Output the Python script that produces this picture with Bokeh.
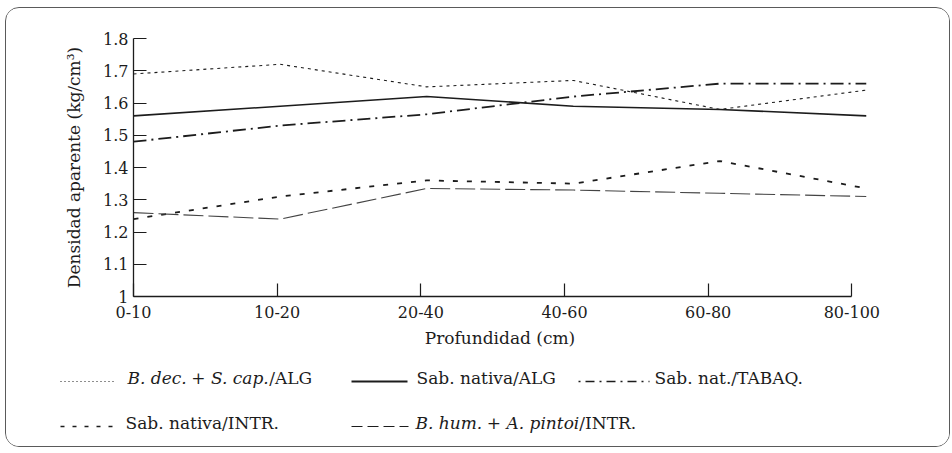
from bokeh.plotting import figure
from bokeh.models import Range1d, FixedTicker
from bokeh.layouts import column
from bokeh.core.properties import value
from bokeh.embed import file_html
from bokeh.resources import INLINE

# ---------------- data ----------------
DEPTHS = ["0-10", "10-20", "20-40", "40-60", "60-80", "80-100"]
BDEC_ALG = [1.69, 1.72, 1.65, 1.67, 1.58, 1.64]        # B. dec. + S. cap./ALG
SABNAT_ALG = [1.56, 1.59, 1.62, 1.59, 1.58, 1.56]      # Sab. nativa/ALG
SABNAT_TABAQ = [1.48, 1.53, 1.565, 1.62, 1.66, 1.66]   # Sab. nat./TABAQ.
SABNAT_INTR = [1.24, 1.31, 1.36, 1.35, 1.42, 1.335]    # Sab. nativa/INTR.
BHUM_INTR = [1.26, 1.24, 1.335, 1.33, 1.32, 1.31]      # B. hum. + A. pintoi/INTR.

Y_TICKS = [1.0, 1.1, 1.2, 1.3, 1.4, 1.5, 1.6, 1.7, 1.8]
Y_TICK_LABELS = ["1", "1.1", "1.2", "1.3", "1.4", "1.5", "1.6", "1.7", "1.8"]

X_LABEL = "Profundidad (cm)"
Y_LABEL = "Densidad aparente (kg/cm³)"

# ---------------- style ----------------
FONT = "DejaVu Serif"
INK = "#1c1c1c"
TICK_STEP = 0.98   # in the source the depth ticks are spaced slightly tighter than the points

x_pos = list(range(len(DEPTHS)))
x_ticks = [round(i * TICK_STEP, 3) for i in x_pos]

W_ALL = 943
H_MAIN = 350
H_LEG = 88

p = figure(width=W_ALL, height=H_MAIN,
           x_range=Range1d(0, len(DEPTHS) - 1), y_range=Range1d(1.0, 1.8),
           output_backend="svg", toolbar_location=None,
           min_border_left=127, min_border_right=83,
           min_border_top=30, min_border_bottom=62)
p.outline_line_color = None
p.background_fill_color = "white"
p.border_fill_color = "white"
p.xgrid.visible = False
p.ygrid.visible = False

for ax in (p.xaxis[0], p.yaxis[0]):
    ax.axis_line_color = INK
    ax.axis_line_width = 1.3
    ax.major_tick_line_color = INK
    ax.major_tick_line_width = 1.2
    ax.major_tick_in = 13
    ax.major_tick_out = 0
    ax.minor_tick_line_color = None
    ax.major_label_text_font = FONT
    ax.major_label_text_font_size = "16px"
    ax.major_label_text_color = INK
    ax.axis_label_text_font = FONT
    ax.axis_label_text_font_size = "17px"
    ax.axis_label_text_font_style = "normal"
    ax.axis_label_text_color = INK

p.xaxis.ticker = FixedTicker(ticks=x_ticks)
p.xaxis.major_label_overrides = dict(zip(x_ticks, DEPTHS))
p.xaxis.bounds = (0, x_ticks[-1])
p.xaxis.major_label_standoff = 9
p.xaxis.axis_label = X_LABEL
p.xaxis.axis_label_standoff = 7

p.yaxis.ticker = FixedTicker(ticks=Y_TICKS)
p.yaxis.major_label_overrides = dict(zip(Y_TICKS, Y_TICK_LABELS))
p.yaxis.major_label_standoff = 5
p.yaxis.axis_label = Y_LABEL
p.yaxis.axis_label_standoff = 16

# ---------------- series ----------------
p.line(x_pos, BDEC_ALG, line_color=INK, line_width=1.1, line_dash="3 4")
p.line(x_pos, SABNAT_ALG, line_color=INK, line_width=1.6)
p.line(x_pos, SABNAT_TABAQ, line_color=INK, line_width=1.8, line_dash="13 5 2 5")
p.line(x_pos, SABNAT_INTR, line_color=INK, line_width=1.8, line_dash="5 9")
p.line(x_pos, BHUM_INTR, line_color="#444444", line_width=1.1, line_dash="20 5")

# ---------------- legend panel (coordinates = page pixels) ----------------
LEG_X0, LEG_Y0 = 6, 8 + H_MAIN
lg = figure(width=W_ALL, height=H_LEG,
            x_range=Range1d(LEG_X0, LEG_X0 + W_ALL), y_range=Range1d(LEG_Y0 + H_LEG, LEG_Y0),
            x_axis_type=None, y_axis_type=None,
            output_backend="svg", toolbar_location=None, min_border=0)
lg.outline_line_color = None
lg.background_fill_color = "white"
lg.border_fill_color = "white"
if "frame_align" in lg.properties():
    lg.frame_align = False
    p.frame_align = False

W = {' ': .318, '.': .318, '+': .838, '/': .337,
     'A': .722, 'B': .686, 'G': .770, 'I': .345, 'N': .812, 'R': .712, 'T': .668,
     'Q': .787, 'S': .686, 'L': .640,
     'a': .596, 'b': .640, 'c': .560, 'd': .640, 'e': .592, 'h': .644, 'i': .320,
     'm': .948, 'n': .644, 'o': .602, 'p': .640, 't': .402, 'u': .644, 'v': .565}
FS = 17


def text_w(s):
    return sum(W.get(ch, .6) for ch in s) * FS


def legend_item(x_line0, x_line1, y_line, dash, lw, x_text, y_text, pieces, color=INK):
    lg.line([x_line0, x_line1], [y_line, y_line], line_color=color, line_width=lw, line_dash=dash)
    x = x_text
    for txt, style in pieces:
        lead = len(txt) - len(txt.lstrip())
        lg.text(x=[x + text_w(txt[:lead])], y=[y_text], text=[txt.strip()], text_font=value(FONT),
                text_font_size=value(f"{FS}px"), text_font_style=style,
                text_color=INK, text_baseline="middle", text_align="left")
        x += text_w(txt)


R1T, R1L = 377, 381
R2T, R2L = 422, 426
legend_item(60, 113, R1L, "1 3", 1.2, 127,
            R1T, [("B. dec.", "italic"), (" + ", "normal"), ("S. cap.", "italic"), ("/ALG", "normal")])
legend_item(351, 407, R1L, "solid", 2.0, 416, R1T, [("Sab. nativa/ALG", "normal")])
legend_item(578, 649, R1L, "2 5 9 5", 1.6, 654, R1T, [("Sab. nat./TABAQ.", "normal")])
legend_item(60, 113, R2L, "4 8", 1.6, 125, R2T, [("Sab. nativa/INTR.", "normal")])
legend_item(351, 408, R2L, "11 5", 1.1, 415,
            R2T, [("B. hum.", "italic"), (" + ", "normal"), ("A. pintoi", "italic"), ("/INTR.", "normal")])

layout = column(p, lg, spacing=0,
                styles={"margin-left": "5px", "margin-top": "7px",
                        "border": "1px solid #5a5a5a", "border-radius": "14px",
                        "overflow": "hidden"})

open("out.html", "w").write(file_html(layout, INLINE))
